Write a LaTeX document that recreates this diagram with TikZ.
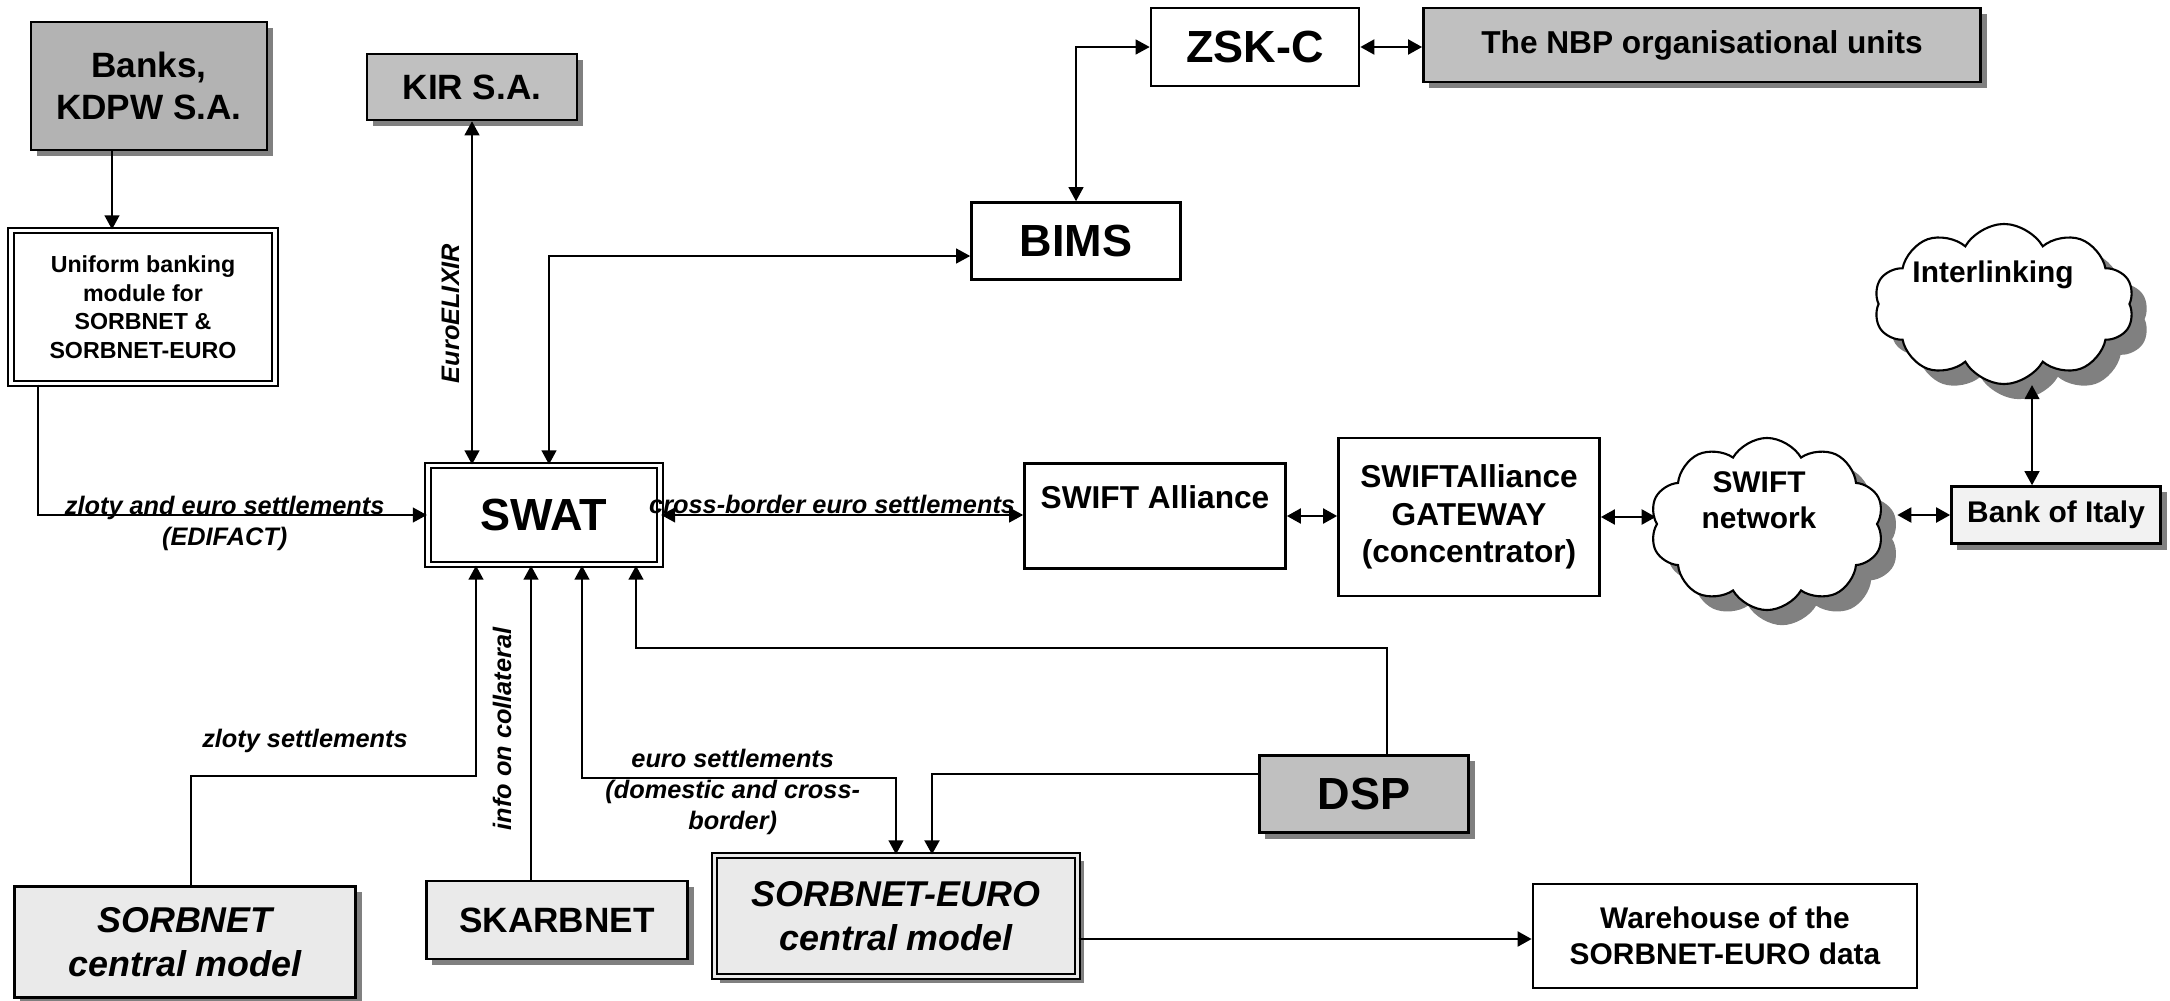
\documentclass[tikz,border=0pt]{standalone}
\usepackage{fontspec}
\setmainfont{Liberation Sans}
\usepackage{tikz}
\usetikzlibrary{positioning, calc, arrows.meta, shapes.symbols, shadows}
\definecolor{darkBox}{HTML}{B3B3B3}
\definecolor{greyBox}{HTML}{C0C0C0}
\definecolor{paleBox}{HTML}{EAEAEA}
\definecolor{italyBox}{HTML}{F2F2F2}
\definecolor{shadowGrey}{HTML}{808080}

\begin{document}
\begin{tikzpicture}[
    x=0.01cm, y=-0.01cm,
    every node/.style={font=\bfseries},
    bigtxt/.style={font=\fontsize{12.8}{15}\selectfont\bfseries},
    midtxt/.style={font=\fontsize{10}{12}\selectfont\bfseries},
    midit/.style={font=\fontsize{10.2}{12.6}\selectfont\bfseries\itshape},
    stdtxt/.style={font=\fontsize{9}{10.7}\selectfont\bfseries},
    smalltxt/.style={font=\fontsize{8.5}{10.2}\selectfont\bfseries},
    tinytxt/.style={font=\fontsize{6.6}{8.1}\selectfont\bfseries},
    lbl/.style={font=\fontsize{7.2}{8.8}\selectfont\bfseries\itshape, align=center},
    box/.style={
        draw,
        line width=0.7pt,
        inner sep=0pt,
        align=center,
    },
    dbox/.style={
        box,
        double,
        double distance=1pt,
        line width=0.6pt,
    },
    shadowed/.style={
        drop shadow={shadow xshift=1.7pt, shadow yshift=-1.7pt, fill=shadowGrey, opacity=1},
    },
    cloudy/.style={
        cloud,
        cloud puffs=10,
        cloud puff arc=120,
        cloud ignores aspect,
        draw,
        line width=0.6pt,
        fill=white,
        inner sep=0pt,
        drop shadow={shadow xshift=4.3pt, shadow yshift=-4.3pt, fill=shadowGrey, opacity=1},
    },
    link/.style={
        -{Triangle[length=4pt, width=4.2pt]},
        line width=0.55pt,
    },
    twoway/.style={
        {Triangle[length=4pt, width=4.2pt]}-{Triangle[length=4pt, width=4.2pt]},
        line width=0.55pt,
    },
]
\useasboundingbox (0,0) rectangle (2170,1000);

% ===== Top row =====
\node[box, shadowed, fill=darkBox, midtxt, minimum width=2.36cm, minimum height=1.28cm] (banks) at (149,86) {Banks,\\KDPW S.A.};
\node[box, shadowed, fill=greyBox, midtxt, minimum width=2.10cm, minimum height=0.66cm] (kir) at (472,87) {KIR S.A.};
\node[box, bigtxt, minimum width=2.08cm, minimum height=0.78cm] (zsk) at (1255,47) {ZSK-C};
\node[box, shadowed, fill=greyBox, stdtxt, minimum width=5.57cm, minimum height=0.74cm] (nbp) at (1702,45) {The NBP organisational units};
\node[box, bigtxt, minimum width=2.09cm, minimum height=0.77cm] (bims) at (1076,241) {BIMS};
\node[dbox, tinytxt, minimum width=2.64cm, minimum height=1.53cm] (uniform) at (143,307) {Uniform banking\\module for\\SORBNET \&\\SORBNET-EURO};
\node[cloudy, minimum width=2.60cm, minimum height=1.60cm,
      label={[smalltxt, xshift=-0.11cm, yshift=0.29cm]center:Interlinking}] (interlink) at (2004,304) {};

% ===== Middle row =====
\node[dbox, bigtxt, minimum width=2.32cm, minimum height=0.99cm] (swat) at (544,515) {SWAT};
\node[box, stdtxt, minimum width=2.61cm, minimum height=1.05cm] (alliance) at (1155,516) {SWIFT Alliance\\\mbox{}};
\node[box, stdtxt, minimum width=2.61cm, minimum height=1.58cm] (gateway) at (1469,517) {SWIFTAlliance\\GATEWAY\\(concentrator)};
\node[cloudy, minimum width=2.34cm, minimum height=1.72cm,
      label={[smalltxt, align=center, xshift=-0.08cm, yshift=0.24cm]center:{SWIFT\\network}}] (swiftnet) at (1767,524) {};
\node[box, shadowed, fill=italyBox, smalltxt, minimum width=2.09cm, minimum height=0.57cm] (italy) at (2056,515) {Bank of Italy};

% ===== Bottom row =====
\node[box, shadowed, fill=greyBox, bigtxt, minimum width=2.09cm, minimum height=0.77cm] (dsp) at (1364,794) {DSP};
\node[box, shadowed, fill=paleBox, midit, minimum width=3.41cm, minimum height=1.11cm] (sorbnet) at (185,942) {SORBNET\\central model};
\node[box, shadowed, fill=paleBox, midtxt, minimum width=2.61cm, minimum height=0.78cm] (skarbnet) at (557,920) {SKARBNET};
\node[dbox, double=paleBox, shadowed, fill=paleBox, midit, minimum width=3.63cm, minimum height=1.21cm] (sorbeuro) at (896,916) {SORBNET-EURO\\central model};
\node[box, smalltxt, minimum width=3.84cm, minimum height=1.04cm] (warehouse) at (1725,936) {Warehouse of the\\SORBNET-EURO data};

% ===== Upper connections =====
\draw[link] ($(banks.south)+(-37,0)$) -- ($(uniform.north)+(-31,0)$);
\draw[link] ($(uniform.south)+(-105,0)$) |- node[lbl, pos=0.74, yshift=-0.085cm] {zloty and euro settlements\\(EDIFACT)} (swat.west);
\draw[twoway] (swat.north -| kir.south) -- node[lbl, pos=0.44, sloped, above] {EuroELIXIR} (kir.south);
\draw[twoway] ($(swat.north)+(5,0)$) |- ($(bims.west)+(0,15)$);
\draw[twoway] (bims.north) |- (zsk.west);
\draw[twoway, thick] (zsk.east) -- (zsk.east -| nbp.west);

% ===== SWIFT chain =====
\draw[twoway] (swat.east) -- node[lbl, above, inner sep=0pt, xshift=-0.1cm] {cross-border euro settlements} (swat.east -| alliance.west);
\draw[twoway, thick] (alliance.east) -- (alliance.east -| gateway.west);
\draw[twoway, thick] (gateway.east) -- (gateway.east -| swiftnet.west);
\draw[twoway, thick] ($(swiftnet.east |- italy.west)+(19,0)$) -- (italy.west);
\coordinate (ilk) at ($(italy.north)+(-24,0)$);
\draw[twoway] (ilk) -- (ilk |- interlink.south);

% ===== Lower connections =====
\draw[link] ($(sorbnet.north)+(6,0)$) |- node[lbl, pos=0.7, above, yshift=0.1cm] {zloty settlements} ($(swat.south)+(-68,210)$) -- ($(swat.south)+(-68,0)$);
\draw[link] ($(skarbnet.north)+(-26,0)$) -- node[lbl, sloped, above=2pt, pos=0.48] {info on collateral} ($(swat.south)+(-13,0)$);
\draw[twoway] ($(swat.south)+(38,0)$) -- ++(0,212) -| node[lbl, pos=0.24, yshift=-0.14cm] {euro settlements\\(domestic and cross-\\border)} (sorbeuro.north);
\draw[link] ($(dsp.north)+(23,0)$) |- ($(swat.south)+(92,82)$) -- ($(swat.south)+(92,0)$);
\draw[link, thick] ($(dsp.west)+(0,-20)$) -| ($(sorbeuro.north)+(36,0)$);
\draw[link, thick] ($(sorbeuro.east)+(0,23)$) -- ($(warehouse.west)+(0,3)$);

\end{tikzpicture}
\end{document}
